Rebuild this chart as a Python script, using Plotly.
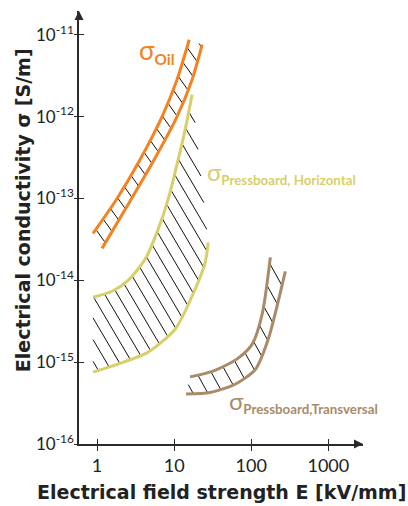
import numpy as np
import plotly.graph_objects as go

# ---- data ----
oil_up_E = [0.887, 1.82, 3.62, 6.98, 10.9, 15.7]
oil_up_s = [10**-13.427, 10**-13.0, 10**-12.524, 10**-12.0, 10**-11.549, 10**-11.061]
oil_lo_E = [1.16, 2.53, 5.34, 10.9, 17.1, 23.1]
oil_lo_s = [10**-13.610, 10**-13.073, 10**-12.549, 10**-12.0, 10**-11.549, 10**-11.122]

ph_up_E = [0.887, 1.566, 2.53, 4.20, 6.20, 8.36, 10.9, 13.9, 17.1]
ph_up_s = [10**-14.207, 10**-14.134, 10**-14.0, 10**-13.744, 10**-13.378, 10**-13.012,
           10**-12.585, 10**-12.159, 10**-11.732]
ph_lo_E = [0.887, 1.87, 4.59, 10.3, 18.7, 25.3, 27.7]
ph_lo_s = [10**-15.122, 10**-15.024, 10**-14.878, 10**-14.598, 10**-14.110, 10**-13.780, 10**-13.537]

pt_up_E = [16.1, 32.0, 65.8, 103, 139, 177]
pt_up_s = [10**-15.18, 10**-15.11, 10**-14.96, 10**-14.78, 10**-14.41, 10**-13.72]
pt_lo_E = [14.3, 29.4, 62.0, 113, 166, 277]
pt_lo_s = [10**-15.39, 10**-15.37, 10**-15.27, 10**-15.09, 10**-14.72, 10**-13.89]

x_tickvals = [1, 10, 100, 1000]
x_ticktext = ["1", "10", "100", "1000"]
y_tickvals = [1e-16, 1e-15, 1e-14, 1e-13, 1e-12, 1e-11]
y_ticktext = ["10<sup>-16</sup>", "10<sup>-15</sup>", "10<sup>-14</sup>",
              "10<sup>-13</sup>", "10<sup>-12</sup>", "10<sup>-11</sup>"]

C_OIL = "#F5821F"
C_PH = "#D8CE6A"
C_PT = "#A98B69"
FONT = "Lato"
TFONT = "DejaVu Sans"

XR = [-0.234, 3.45]
YR = [-16.0, -10.71]
PX_X = 284 / (XR[1] - XR[0])
PX_Y = 433 / (YR[1] - YR[0])


def hatch(uE, us, lE, ls, spacing, slope=1.7):
    """Hatch segments clipped to the band between two curves (screen-like space)."""
    P = np.array([[np.log10(e) * PX_X, np.log10(s) * PX_Y] for e, s in zip(uE, us)] +
                 [[np.log10(e) * PX_X, np.log10(s) * PX_Y] for e, s in zip(lE[::-1], ls[::-1])])
    P = np.vstack([P, P[:1]])
    d = np.array([1.0, -slope]); d /= np.linalg.norm(d)
    n = np.array([slope, 1.0]); n /= np.linalg.norm(n)
    proj = P @ n
    xs, ys = [], []
    c = proj.min() + spacing / 2
    while c < proj.max():
        pts = []
        for i in range(len(P) - 1):
            a, b = proj[i] - c, proj[i + 1] - c
            if a * b < 0:
                t = a / (a - b)
                pts.append(P[i] + t * (P[i + 1] - P[i]))
        pts.sort(key=lambda q: q @ d)
        for k in range(0, len(pts) - 1, 2):
            for q in (pts[k], pts[k + 1]):
                xs.append(10 ** (q[0] / PX_X)); ys.append(10 ** (q[1] / PX_Y))
            xs.append(None); ys.append(None)
        c += spacing
    return xs, ys


fig = go.Figure()
for (uE, us, lE, ls, sp, sl) in [(oil_up_E, oil_up_s, oil_lo_E, oil_lo_s, 12, 1.4),
                                 (ph_up_E, ph_up_s, ph_lo_E, ph_lo_s, 11, 1.7),
                                 (pt_up_E, pt_up_s, pt_lo_E, pt_lo_s, 13, 1.8)]:
    hx, hy = hatch(uE, us, lE, ls, sp, sl)
    fig.add_trace(go.Scatter(x=hx, y=hy, mode="lines",
                             line=dict(color="#111", width=1), hoverinfo="skip"))

for E, s, col in [(oil_up_E, oil_up_s, C_OIL), (oil_lo_E, oil_lo_s, C_OIL),
                  (ph_up_E, ph_up_s, C_PH), (ph_lo_E, ph_lo_s, C_PH),
                  (pt_up_E, pt_up_s, C_PT), (pt_lo_E, pt_lo_s, C_PT)]:
    fig.add_trace(go.Scatter(x=E, y=s, mode="lines",
                             line=dict(color=col, width=3, shape="spline", smoothing=0.7)))

fig.add_trace(go.Scatter(x=[], y=[], xaxis="x2", yaxis="y2"))

axcol = "#2a2a2a"
common = dict(showgrid=False, zeroline=False, type="log")
fig.update_layout(
    width=408, height=506,
    margin=dict(l=79, r=45, t=11, b=62),
    plot_bgcolor="white", paper_bgcolor="white",
    showlegend=False,
    font=dict(family=FONT, color="#222"),
    xaxis=dict(**common, range=XR, tickmode="array", tickvals=x_tickvals, ticktext=x_ticktext,
               showline=True, linecolor=axcol, linewidth=1.5, ticks="outside", ticklen=5,
               tickwidth=1.2, tickcolor=axcol, tickfont=dict(size=18, family=FONT, color="#222")),
    yaxis=dict(**common, range=YR, tickmode="array", tickvals=y_tickvals, ticktext=y_ticktext,
               showline=True, linecolor=axcol, linewidth=1.5, ticks="outside", ticklen=3,
               tickwidth=1.2, tickcolor=axcol, ticklabelstandoff=-3,
               tickfont=dict(size=17, family=FONT, color="#222")),
    xaxis2=dict(**common, range=XR, overlaying="x", tickmode="array", tickvals=x_tickvals,
                showticklabels=False, ticks="inside", ticklen=5, tickwidth=1.2, tickcolor=axcol,
                showline=False),
    yaxis2=dict(**common, range=YR, overlaying="y", tickmode="array", tickvals=y_tickvals,
                showticklabels=False, ticks="inside", ticklen=5, tickwidth=1.2, tickcolor=axcol,
                showline=False),
)

shapes = [
    dict(type="path", xref="paper", yref="paper", xsizemode="pixel", ysizemode="pixel",
         xanchor=0, yanchor=1, path="M -4.5 -9 L 4.5 -9 L 0 0 Z",
         fillcolor=axcol, line=dict(width=0)),
    dict(type="path", xref="paper", yref="paper", xsizemode="pixel", ysizemode="pixel",
         xanchor=1, yanchor=0, path="M -9 -4.5 L -9 4.5 L 0 0 Z",
         fillcolor=axcol, line=dict(width=0)),
]

ann = [
    dict(x=0.5, y=-0.111, xref="paper", yref="paper", showarrow=False,
         text="<b>Electrical field strength E [kV/mm]</b>", font=dict(size=19, family=TFONT, color="#222"),
         xanchor="center", yanchor="middle"),
    dict(x=-0.197, y=0.54, xref="paper", yref="paper", showarrow=False, textangle=-90,
         text="<b>Electrical conductivity σ [S/m]</b>", font=dict(size=19, family=TFONT, color="#222"),
         xanchor="center", yanchor="middle"),
    dict(x=0.52, y=-11.2, xref="x", yref="y", showarrow=False, xanchor="left", yanchor="middle",
         text='<span style="font-size:26px">σ</span><sub><b>Oil</b></sub>',
         font=dict(size=22, family=FONT, color=C_OIL)),
    dict(x=1.40, y=-12.68, xref="x", yref="y", showarrow=False, xanchor="left", yanchor="middle",
         text='<span style="font-size:24px">σ</span><sub><b>Pressboard, Horizontal</b></sub>',
         font=dict(size=19, family=FONT, color=C_PH)),
    dict(x=1.69, y=-15.48, xref="x", yref="y", showarrow=False, xanchor="left", yanchor="middle",
         text='<span style="font-size:24px">σ</span><sub><b>Pressboard,Transversal</b></sub>',
         font=dict(size=19, family=FONT, color=C_PT)),
]
fig.update_layout(annotations=ann, shapes=shapes)
fig.write_html("out.html")
